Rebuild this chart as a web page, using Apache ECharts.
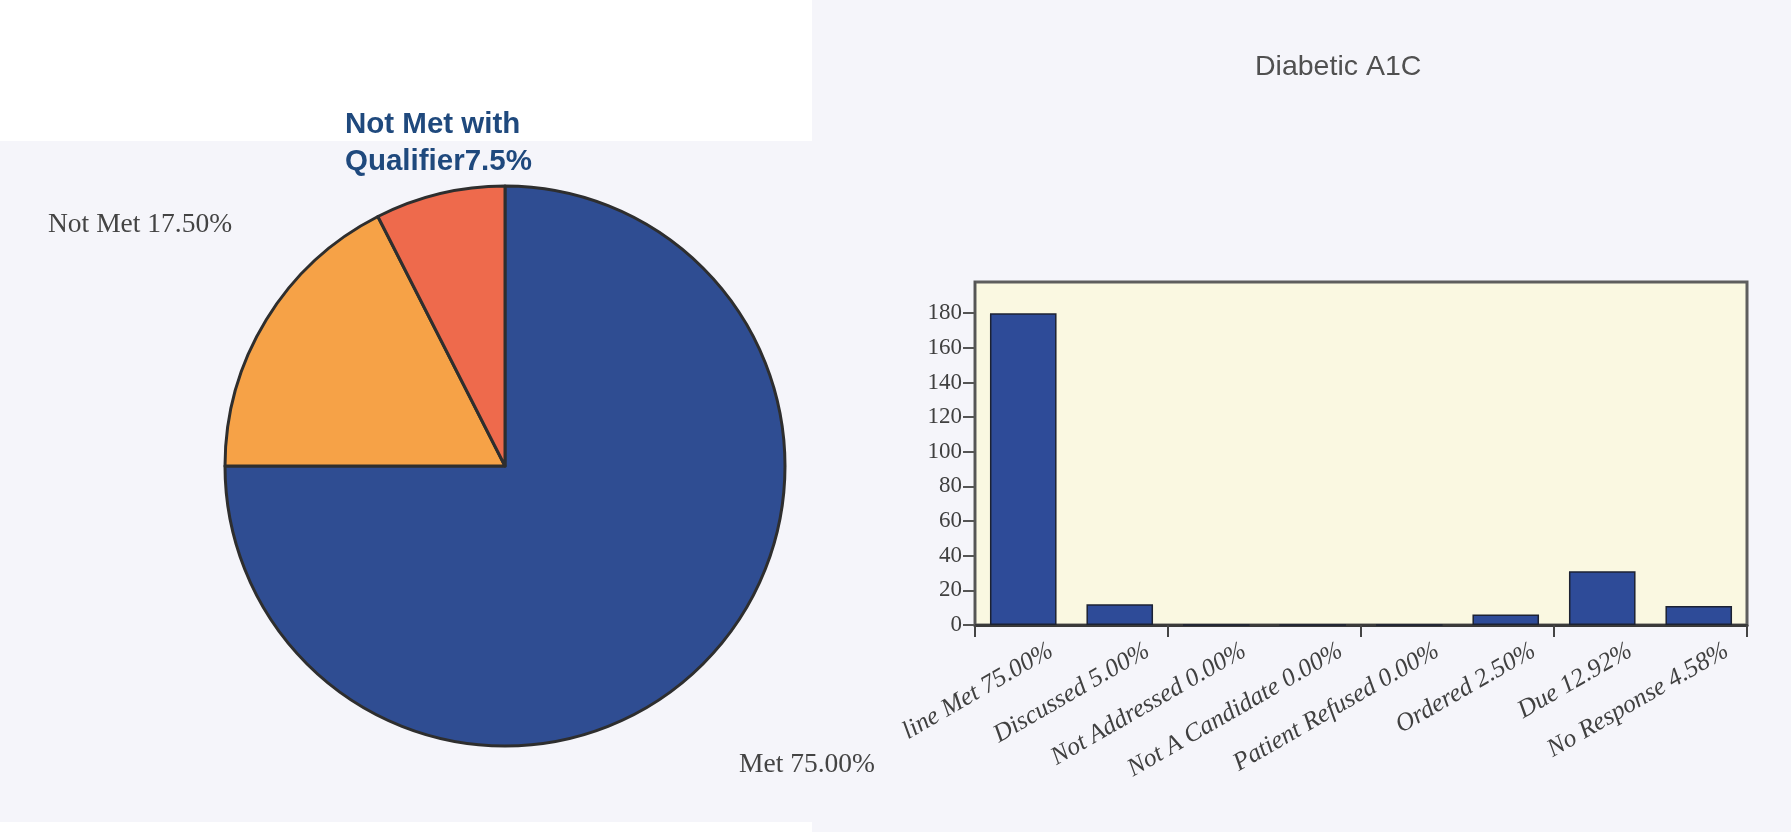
<!DOCTYPE html>
<html><head><meta charset="utf-8">
<script src="https://cdn.jsdelivr.net/npm/echarts@6/dist/echarts.min.js"></script>
<style>html,body{margin:0;padding:0;background:#F5F5FA;}#c{width:1791px;height:832px;}</style>
</head><body><div id="c"></div>
<script>
const pieNames = ['Met', 'Not Met', 'Not Met with Qualifier'];
const pieValues = [75, 17.5, 7.5];
const pieLabels = ['Met 75.00%', 'Not Met 17.50%', 'Not Met with\nQualifier7.5%'];
const pieColors = ['#2F4D92', '#F6A247', '#EE6A4C'];
const barCategories = ['line Met 75.00%', 'Discussed 5.00%', 'Not Addressed 0.00%', 'Not A Candidate 0.00%', 'Patient Refused 0.00%', 'Ordered 2.50%', 'Due 12.92%', 'No Response 4.58%'];
const barValues = [180, 12, 0, 0, 0, 6, 31, 11];
const yTicks = [0, 20, 40, 60, 80, 100, 120, 140, 160, 180];
const chartTitle = 'Diabetic A1C';

const serifLabel = {fontFamily: '"Liberation Serif", "Times New Roman", serif', fontSize: 27.5, color: '#444444'};
const qualLabel = {fontFamily: '"Liberation Sans", Arial, sans-serif', fontWeight: 'bold', fontSize: 29.5, lineHeight: 37, color: '#1F497D'};
const pieLabelPos = [
  {x: 739, y: 765, align: 'left', verticalAlign: 'middle'},
  {x: 48, y: 225, align: 'left', verticalAlign: 'middle'},
  {x: 345, y: 106, align: 'left', verticalAlign: 'top'}
];

const chart = echarts.init(document.getElementById('c'), null, {renderer: 'canvas'});
chart.setOption({
  backgroundColor: '#F5F5FA',
  animation: false,
  title: {
    text: chartTitle, left: 1250, top: 48,
    textStyle: {fontFamily: '"Liberation Sans", Arial, sans-serif', fontSize: 28.5, fontWeight: 'normal', color: '#505050'}
  },
  graphic: [
    {type: 'rect', z: -100, silent: true, shape: {x: 0, y: 0, width: 812, height: 141}, style: {fill: '#FFFFFF'}},
    {type: 'rect', z: -100, silent: true, shape: {x: 0, y: 822, width: 812, height: 10}, style: {fill: '#FFFFFF'}}
  ],
  grid: [
    {left: 975, top: 282, width: 772, height: 343, show: true, backgroundColor: '#FAF8E1', borderColor: '#5E5E5E', borderWidth: 3, outerBoundsMode: 'none'},
    {left: 1003, top: 282, width: 772, height: 343, show: false, outerBoundsMode: 'none'}
  ],
  xAxis: [
    {
      type: 'category', gridIndex: 0, data: barCategories,
      axisLine: {show: true, lineStyle: {color: '#3A3A3A', width: 3}},
      axisTick: {show: true, length: 12, lineStyle: {color: '#444', width: 2}},
      axisLabel: {show: false}
    },
    {
      type: 'category', gridIndex: 1, data: barCategories,
      axisLine: {show: false}, axisTick: {show: false},
      axisLabel: {show: true, interval: 0, rotate: 30, margin: 24,
        fontFamily: '"Liberation Serif", "Times New Roman", serif', fontStyle: 'italic', fontSize: 25.5, color: '#404040'}
    }
  ],
  yAxis: [
    {
      type: 'value', gridIndex: 0, min: 0, max: 198, interval: 20,
      splitLine: {show: false},
      axisLine: {show: true, lineStyle: {color: '#555', width: 2}},
      axisTick: {show: true, length: 12, customValues: yTicks, lineStyle: {color: '#555', width: 2}},
      axisLabel: {show: true, margin: 13, customValues: yTicks,
        fontFamily: '"Liberation Serif", "Times New Roman", serif', fontSize: 23, color: '#404040'}
    },
    {type: 'value', gridIndex: 1, show: false, min: 0, max: 198}
  ],
  series: [
    {
      type: 'pie', center: [505, 466], radius: 280, startAngle: 90, clockwise: true,
      data: pieNames.map((n, i) => ({
        name: n, value: pieValues[i],
        itemStyle: {color: pieColors[i]},
        label: Object.assign({formatter: pieLabels[i]}, i === 2 ? qualLabel : serifLabel)
      })),
      itemStyle: {borderColor: '#2E2E2E', borderWidth: 3},
      label: {show: true, position: 'outside'},
      labelLine: {show: false},
      labelLayout: function (p) { return pieLabelPos[p.dataIndex]; },
      emphasis: {disabled: true}
    },
    {
      type: 'bar', xAxisIndex: 0, yAxisIndex: 0, data: barValues,
      barCategoryGap: '31%',
      itemStyle: {color: '#2E4B98', borderColor: '#1C2233', borderWidth: 1.5},
      emphasis: {disabled: true}
    }
  ]
});
</script>
</body></html>
